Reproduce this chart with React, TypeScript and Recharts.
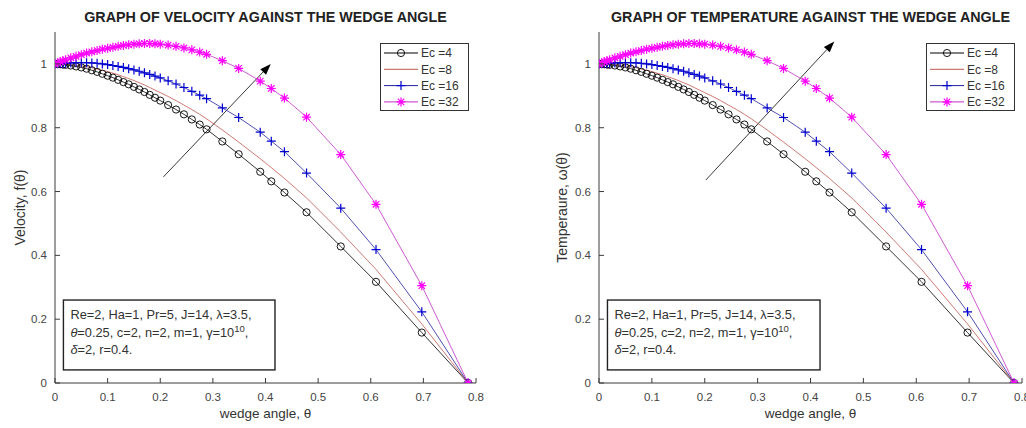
import React from 'react';
import { LineChart, Line, XAxis, YAxis, ReferenceLine, ReferenceArea, Legend } from 'recharts';

// wedge angle grid (theta)
const theta = [0, 0.005, 0.01, 0.015, 0.02, 0.03, 0.04, 0.05, 0.06, 0.07, 0.08, 0.09, 0.1, 0.11, 0.12, 0.13, 0.14, 0.15, 0.16, 0.17, 0.18, 0.19, 0.2, 0.215, 0.23, 0.245, 0.26, 0.275, 0.288, 0.318, 0.349, 0.39, 0.411, 0.436, 0.478, 0.543, 0.61, 0.697, 0.785];
const ec4 = [1.0, 1.0, 0.999, 0.998, 0.997, 0.995, 0.992, 0.989, 0.985, 0.98, 0.975, 0.969, 0.963, 0.957, 0.95, 0.943, 0.936, 0.928, 0.92, 0.912, 0.903, 0.894, 0.885, 0.871, 0.857, 0.842, 0.826, 0.81, 0.795, 0.757, 0.717, 0.662, 0.632, 0.597, 0.535, 0.428, 0.317, 0.158, 0];
const ec8 = [1.0, 1.0, 1.0, 0.999, 0.999, 0.998, 0.996, 0.994, 0.991, 0.988, 0.984, 0.98, 0.976, 0.971, 0.966, 0.96, 0.954, 0.948, 0.941, 0.934, 0.926, 0.918, 0.91, 0.898, 0.885, 0.871, 0.857, 0.842, 0.828, 0.793, 0.755, 0.703, 0.675, 0.641, 0.58, 0.473, 0.356, 0.185, 0];
const ec16 = [1.0, 1.0005, 1.001, 1.0015, 1.002, 1.003, 1.004, 1.004, 1.004, 1.003, 1.002, 1.0, 0.998, 0.995, 0.992, 0.989, 0.985, 0.981, 0.977, 0.972, 0.967, 0.962, 0.956, 0.947, 0.937, 0.926, 0.914, 0.902, 0.891, 0.862, 0.832, 0.786, 0.758, 0.725, 0.658, 0.548, 0.418, 0.223, 0];
const ec32 = [1.0, 1.0035, 1.007, 1.01, 1.013, 1.019, 1.024, 1.029, 1.034, 1.038, 1.042, 1.046, 1.049, 1.052, 1.055, 1.058, 1.06, 1.062, 1.063, 1.064, 1.064, 1.063, 1.062, 1.059, 1.055, 1.05, 1.044, 1.037, 1.03, 1.01, 0.986, 0.946, 0.923, 0.893, 0.833, 0.716, 0.56, 0.305, 0];

const seriesKeys = ['ec4', 'ec8', 'ec16', 'ec32'];
const seriesNames = ['Ec =4', 'Ec =8', 'Ec =16', 'Ec =32'];
const seriesColors = ['#000000', '#c0584e', '#22229a', '#c030c8'];
const markerColors = ['#000000', '#c0584e', '#0000d0', '#ff00ff'];
const markerTypes = ['circle', 'none', 'plus', 'star'];

const xTicks = [0, 0.1, 0.2, 0.3, 0.4, 0.5, 0.6, 0.7, 0.8];
const yTicks = [0, 0.2, 0.4, 0.6, 0.8, 1];

const velocityArrow = [{ x: 0.206, y: 0.646 }, { x: 0.41, y: 1.0 }];
const temperatureArrow = [{ x: 0.202, y: 0.636 }, { x: 0.445, y: 1.07 }];
const paramBox = { x1: 0.016, x2: 0.418, y1: 0.041, y2: 0.26 };

const data = theta.map((t, i) => ({ theta: t, ec4: ec4[i], ec8: ec8[i], ec16: ec16[i], ec32: ec32[i] }));

const FONT = '"Liberation Sans", Arial, Helvetica, sans-serif';
const AX = '#3a3a3a';
const TXT = '#444';

function drawMarker(type: string, cx: number, cy: number, color: string, key?: any) {
  if (type === 'circle') {
    return <circle key={key} cx={cx} cy={cy} r={3.6} fill="none" stroke={color} strokeWidth={0.9} />;
  }
  if (type === 'plus') {
    return <path key={key} d={`M${cx - 4.5},${cy}h9M${cx},${cy - 4.5}v9`} stroke={color} strokeWidth={1.2} fill="none" />;
  }
  if (type === 'star') {
    const d = 3.2;
    return (
      <path key={key}
        d={`M${cx - 4.5},${cy}h9M${cx},${cy - 4.5}v9M${cx - d},${cy - d}L${cx + d},${cy + d}M${cx - d},${cy + d}L${cx + d},${cy - d}`}
        stroke={color} strokeWidth={1.2} fill="none" />
    );
  }
  return <g key={key} />;
}

const BottomTick = (p: any) => (
  <g>
    <line x1={p.x} x2={p.x} y1={p.y - 10} y2={p.y - 15} stroke={AX} />
    <text x={p.x} y={p.y} dy="0.71em" textAnchor="middle" fontSize={11.5} fill={TXT}>{p.payload.value}</text>
  </g>
);
const TopTick = (p: any) => (
  <line x1={p.x} x2={p.x} y1={p.y + 8} y2={p.y + 13} stroke={AX} />
);
const LeftTick = (p: any) => (
  <g>
    <line x1={p.x + 8} x2={p.x + 13} y1={p.y} y2={p.y} stroke={AX} />
    <text x={p.x} y={p.y} dy="0.355em" textAnchor="end" fontSize={11.5} fill={TXT}>{p.payload.value}</text>
  </g>
);
const RightTick = (p: any) => (
  <line x1={p.x - 8} x2={p.x - 13} y1={p.y} y2={p.y} stroke={AX} />
);

const ArrowShape = (p: any) => {
  const { x1, y1, x2, y2 } = p;
  const a = Math.atan2(y2 - y1, x2 - x1);
  const L = 11, W = 4;
  const bx = x2 - L * Math.cos(a), by = y2 - L * Math.sin(a);
  const pts = `${x2},${y2} ${bx - W * Math.sin(a)},${by + W * Math.cos(a)} ${bx + W * Math.sin(a)},${by - W * Math.cos(a)}`;
  return (
    <g>
      <line x1={x1} y1={y1} x2={bx} y2={by} stroke="#222" strokeWidth={0.9} />
      <polygon points={pts} fill="#000" />
    </g>
  );
};

const ParamShape = (p: any) => {
  const { x, y, width, height } = p;
  const tx = x + 7;
  return (
    <g>
      <rect x={x} y={y} width={width} height={height} fill="#fff" stroke="#222" strokeWidth={1.4} />
      <text x={tx} y={y + 19} fontSize={12.8} fill="#333">Re=2, Ha=1, Pr=5, J=14, λ=3.5,</text>
      <text x={tx} y={y + 37} fontSize={12.8} fill="#333">
        <tspan fontStyle="italic">θ</tspan>=0.25, c=2, n=2, m=1, γ=10<tspan fontSize={9.5} dy={-5}>10</tspan><tspan dy={5}>,</tspan>
      </text>
      <text x={tx} y={y + 54} fontSize={12.8} fill="#333"><tspan fontStyle="italic">δ</tspan>=2, r=0.4.</text>
    </g>
  );
};

const LegendContent = () => (
  <div style={{ width: 89, height: 68, boxSizing: 'border-box', border: '1.3px solid #333', background: '#fff' }}>
    <svg width={87} height={66} style={{ display: 'block' }}>
      {seriesKeys.map((k, idx) => {
        const cy = 9 + idx * 16.3;
        return (
          <g key={k}>
            <line x1={3} x2={37} y1={cy} y2={cy} stroke={seriesColors[idx]} strokeWidth={1} />
            {drawMarker(markerTypes[idx], 20, cy, markerColors[idx])}
            <text x={40} y={cy} dy="0.36em" fontSize={12} fill="#333">{seriesNames[idx]}</text>
          </g>
        );
      })}
    </svg>
  </div>
);

function Panel(props: { offset: number; mLeft: number; mRight: number; title: string; yLabel: string; yLabelDx: number; arrow: any[] }) {
  const { offset, mLeft, mRight, title, yLabel, yLabelDx, arrow } = props;
  const yAxisW = 45;
  const plotLeft = mLeft + yAxisW;
  const plotW = 513 - plotLeft - mRight;
  return (
    <div style={{ position: 'absolute', left: offset, top: 0, width: 513, height: 428 }}>
      <LineChart width={513} height={428} data={data} margin={{ top: 32, right: mRight, bottom: 10, left: mLeft }}>
        <XAxis xAxisId="b" dataKey="theta" type="number" domain={[0, 0.8]} ticks={xTicks} interval={0} allowDataOverflow
          height={35} tickSize={6} tickMargin={4} tickLine={false} axisLine={{ stroke: AX }} tick={BottomTick}
          label={{ value: 'wedge angle, θ', position: 'insideBottom', offset: 0, fill: '#333', fontSize: 13.5 }} />
        <XAxis xAxisId="t" orientation="top" dataKey="theta" type="number" domain={[0, 0.8]} ticks={xTicks} interval={0} allowDataOverflow
          height={0} tickSize={6} tickMargin={2} tickLine={false} axisLine={{ stroke: AX }} tick={TopTick} />
        <YAxis yAxisId="l" type="number" domain={[0, 1.1]} ticks={yTicks} interval={0} allowDataOverflow
          width={yAxisW} tickSize={6} tickMargin={2} tickLine={false} axisLine={{ stroke: AX }} tick={LeftTick}
          label={{ value: yLabel, angle: -90, position: 'center', dx: yLabelDx, fill: '#333', fontSize: 14 }} />
        <YAxis yAxisId="r" orientation="right" type="number" domain={[0, 1.1]} ticks={yTicks} interval={0} allowDataOverflow
          width={0} tickSize={6} tickMargin={2} tickLine={false} axisLine={{ stroke: AX }} tick={RightTick} />
        <ReferenceArea xAxisId="b" yAxisId="l" x1={paramBox.x1} x2={paramBox.x2} y1={paramBox.y1} y2={paramBox.y2} shape={ParamShape} />
        <ReferenceLine xAxisId="b" yAxisId="l" segment={arrow} shape={ArrowShape} />
        {seriesKeys.map((k, i) => (
          <Line key={k} xAxisId="b" yAxisId="l" type="linear" dataKey={k} name={seriesNames[i]}
            stroke={seriesColors[i]} strokeWidth={0.8} isAnimationActive={false} activeDot={false}
            dot={markerTypes[i] === 'none' ? false : (p: any) => drawMarker(markerTypes[i], p.cx, p.cy, markerColors[i], `d${k}${p.index}`)} />
        ))}
        <Legend layout="vertical" align="center" verticalAlign="middle"
          wrapperStyle={{ left: plotLeft + plotW - 96, top: 43, width: 89, height: 68 }} content={LegendContent} />
      </LineChart>
      <div style={{ position: 'absolute', left: plotLeft, top: 9, width: plotW, textAlign: 'center', fontWeight: 'bold', fontSize: 14.3, lineHeight: '16px', color: '#222', whiteSpace: 'nowrap' }}>
        {title}
      </div>
    </div>
  );
}

export default function App() {
  return (
    <div style={{ position: 'absolute', left: 0, top: 0, width: 1026, height: 428, background: '#fff', fontFamily: FONT, overflow: 'hidden' }}>
      <Panel offset={0} mLeft={10} mRight={37} title="GRAPH OF VELOCITY AGAINST THE WEDGE ANGLE" yLabel="Velocity, f(θ)" yLabelDx={-12.5} arrow={velocityArrow} />
      <Panel offset={513} mLeft={41} mRight={4} title="GRAPH OF TEMPERATURE AGAINST THE WEDGE ANGLE" yLabel="Temperaure, ω(θ)" yLabelDx={-14.5} arrow={temperatureArrow} />
    </div>
  );
}
